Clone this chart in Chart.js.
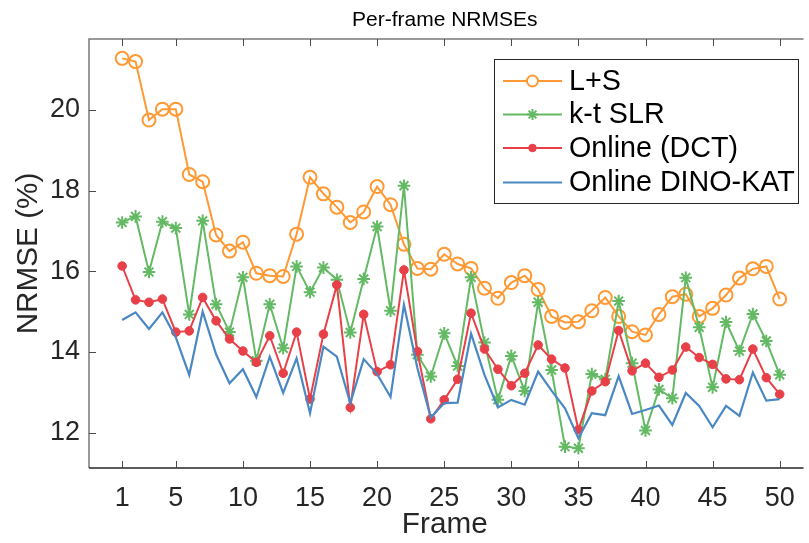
<!DOCTYPE html>
<html>
<head>
<meta charset="utf-8">
<script src="https://cdn.jsdelivr.net/npm/chart.js@4/dist/chart.umd.min.js"></script>
<style>
  html, body { margin: 0; padding: 0; background: #ffffff; }
  #wrap { width: 809px; height: 543px; }
</style>
</head>
<body>
<div id="wrap"><canvas id="nrmse" width="809" height="543"></canvas></div>
<script>
// Frame indices
const frames = [1, 2, 3, 4, 5, 6, 7, 8, 9, 10,
  11, 12, 13, 14, 15, 16, 17, 18, 19, 20,
  21, 22, 23, 24, 25, 26, 27, 28, 29, 30,
  31, 32, 33, 34, 35, 36, 37, 38, 39, 40,
  41, 42, 43, 44, 45, 46, 47, 48, 49, 50];

// Per-frame NRMSE (%) for each reconstruction method
const lsValues = [21.28, 21.20, 19.75, 20.02, 20.02, 18.40, 18.22, 16.90, 16.50, 16.72,
  15.95, 15.89, 15.87, 16.92, 18.33, 17.92, 17.59, 17.21, 17.47, 18.10,
  17.65, 16.67, 16.07, 16.05, 16.42, 16.18, 16.07, 15.58, 15.33, 15.72,
  15.89, 15.55, 14.88, 14.73, 14.75, 15.02, 15.35, 14.88, 14.50, 14.42,
  14.93, 15.37, 15.43, 14.88, 15.08, 15.41, 15.83, 16.06, 16.12, 15.31];

const ktslrValues = [17.21, 17.36, 15.98, 17.23, 17.07, 14.93, 17.25, 15.18, 14.49, 15.85,
  13.78, 15.18, 14.09, 16.12, 15.48, 16.09, 15.79, 14.48, 15.81, 17.11,
  15.02, 18.12, 13.93, 13.39, 14.46, 13.65, 15.85, 14.23, 12.81, 13.90,
  13.03, 15.23, 13.55, 11.65, 11.61, 13.45, 13.32, 15.26, 13.72, 12.05,
  13.07, 12.85, 15.84, 14.61, 13.12, 14.74, 14.02, 14.94, 14.27, 13.43];

const dctValues = [16.13, 15.29, 15.23, 15.31, 14.49, 14.52, 15.35, 14.77, 14.32, 14.02,
  13.74, 14.40, 13.47, 14.49, 12.83, 14.44, 15.66, 12.62, 14.93, 13.51,
  13.68, 16.03, 14.01, 12.34, 12.81, 13.32, 14.96, 14.07, 13.57, 13.16,
  13.47, 14.17, 13.82, 13.60, 12.07, 13.03, 13.26, 14.53, 13.53, 13.72,
  13.37, 13.55, 14.12, 13.86, 13.69, 13.33, 13.31, 14.07, 13.36, 12.95];

const dinoValues = [14.79, 14.98, 14.57, 14.98, 14.36, 13.43, 15.00, 13.94, 13.22, 13.57,
  12.88, 13.88, 12.98, 13.84, 12.48, 14.13, 13.88, 12.73, 13.82, 13.45,
  12.88, 15.17, 13.60, 12.37, 12.73, 12.74, 14.45, 13.43, 12.62, 12.81,
  12.69, 13.51, 13.04, 12.60, 11.86, 12.48, 12.43, 13.40, 12.46, 12.56,
  12.67, 12.19, 12.98, 12.66, 12.13, 12.66, 12.41, 13.49, 12.79, 12.83];

// Axis tick positions
const xTickValues = [1, 5, 10, 15, 20, 25, 30, 35, 40, 45, 50];
const yTickValues = [12, 14, 16, 18, 20];

const FONT = '"Liberation Sans", Arial, Helvetica, sans-serif';
const TEXT = '#262626';

const toPoints = vals => frames.map((f, i) => ({ x: f, y: vals[i] }));

// Axes box with inward-pointing tick marks, plus the title
const axesBox = {
  id: 'axesBox',
  beforeDatasetsDraw(chart) {
    const { ctx, chartArea: a, scales: { x, y } } = chart;
    ctx.save();
    ctx.lineWidth = 1.5;
    ctx.strokeStyle = '#7a7a7a';
    ctx.beginPath();
    ctx.moveTo(a.left, a.bottom); ctx.lineTo(a.left, a.top); ctx.lineTo(a.right + 3, a.top);
    ctx.stroke();
    ctx.strokeStyle = TEXT;
    ctx.beginPath();
    ctx.moveTo(a.left, a.bottom); ctx.lineTo(a.right + 3, a.bottom);
    ctx.stroke();
    ctx.lineWidth = 1;
    ctx.strokeStyle = '#4a4a4a';
    ctx.beginPath();
    xTickValues.forEach(v => {
      const px = Math.round(x.getPixelForValue(v)) + 0.5;
      ctx.moveTo(px, a.bottom); ctx.lineTo(px, a.bottom - 7);
      ctx.moveTo(px, a.top); ctx.lineTo(px, a.top + 7);
    });
    yTickValues.forEach(v => {
      const py = Math.round(y.getPixelForValue(v)) + 0.5;
      ctx.moveTo(a.left, py); ctx.lineTo(a.left + 7, py);
    });
    ctx.stroke();
    ctx.restore();
  },
  afterDraw(chart) {
    const { ctx, chartArea: a } = chart;
    ctx.save();
    ctx.fillStyle = '#000000';
    ctx.font = '21px ' + FONT;
    ctx.textAlign = 'center';
    ctx.textBaseline = 'middle';
    ctx.fillText('Per-frame NRMSEs', (a.left + a.right) / 2, 20);
    ctx.restore();
  }
};

// Boxed legend in the upper-right corner of the plot
const boxLegend = {
  id: 'boxLegend',
  afterDraw(chart) {
    const { ctx } = chart;
    const bx = 494, by = 59, bw = 304, bh = 144;
    ctx.save();
    ctx.fillStyle = '#ffffff';
    ctx.fillRect(bx, by, bw, bh);
    ctx.lineWidth = 1;
    ctx.strokeStyle = '#262626';
    ctx.strokeRect(bx + 0.5, by + 0.5, bw, bh);
    const rows = [81, 114.5, 148, 182.5];
    chart.data.datasets.forEach((ds, i) => {
      const yy = rows[i];
      ctx.strokeStyle = ds.borderColor;
      ctx.lineWidth = 2;
      ctx.beginPath();
      ctx.moveTo(503, yy); ctx.lineTo(562, yy);
      ctx.stroke();
      if (ds.pointStyle && ds.pointRadius > 0) {
        ctx.fillStyle = ds.pointStyle === 'circle' && ds.label === 'L+S' ? '#ffffff' : ds.pointBackgroundColor;
        ctx.strokeStyle = ds.pointBorderColor;
        ctx.lineWidth = ds.pointBorderWidth;
        Chart.helpers.drawPoint(ctx, {
          pointStyle: ds.pointStyle,
          radius: ds.legendRadius,
          borderWidth: ds.pointBorderWidth
        }, 532.5, yy);
      }
      ctx.fillStyle = '#000000';
      ctx.font = '28.7px ' + FONT;
      ctx.textAlign = 'left';
      ctx.textBaseline = 'middle';
      ctx.fillText(ds.label, 569, yy + 1);
    });
    ctx.restore();
  }
};

const ORANGE = 'rgb(255,153,51)';
const GREEN = 'rgb(100,186,100)';
const RED = 'rgb(232,64,72)';
const BLUE = 'rgb(74,136,196)';

new Chart(document.getElementById('nrmse'), {
  type: 'line',
  data: {
    datasets: [
      {
        label: 'L+S', data: toPoints(lsValues), order: 4,
        borderColor: ORANGE, borderWidth: 2,
        pointStyle: 'circle', pointRadius: 6.5, legendRadius: 5.5, pointBorderWidth: 2,
        pointBorderColor: ORANGE, pointBackgroundColor: 'rgba(255,255,255,0)'
      },
      {
        label: 'k-t SLR', data: toPoints(ktslrValues), order: 3,
        borderColor: GREEN, borderWidth: 2,
        pointStyle: 'star', pointRadius: 6.3, legendRadius: 5.5, pointBorderWidth: 2,
        pointBorderColor: GREEN, pointBackgroundColor: GREEN
      },
      {
        label: 'Online (DCT)', data: toPoints(dctValues), order: 2,
        borderColor: RED, borderWidth: 2,
        pointStyle: 'circle', pointRadius: 4.3, legendRadius: 3.8, pointBorderWidth: 1,
        pointBorderColor: RED, pointBackgroundColor: RED
      },
      {
        label: 'Online DINO-KAT', data: toPoints(dinoValues), order: 1,
        borderColor: BLUE, borderWidth: 2.2,
        pointStyle: false, pointRadius: 0, legendRadius: 0, pointBorderWidth: 0,
        pointBorderColor: BLUE, pointBackgroundColor: BLUE
      }
    ]
  },
  options: {
    responsive: false,
    animation: false,
    devicePixelRatio: 1,
    layout: { padding: { left: 0, right: 3, top: 39, bottom: 0 } },
    elements: { line: { tension: 0 } },
    plugins: {
      legend: { display: false },
      title: { display: false },
      tooltip: { enabled: false }
    },
    scales: {
      x: {
        type: 'linear',
        min: -1.47,
        max: 51.55,
        afterBuildTicks(scale) { scale.ticks = xTickValues.map(v => ({ value: v })); },
        afterFit(scale) { scale.height = 75; },
        grid: { display: false, drawTicks: false },
        border: { display: false },
        ticks: { color: TEXT, font: { size: 27, family: FONT }, padding: 14, maxRotation: 0, autoSkip: false },
        title: { display: true, text: 'Frame', color: TEXT, font: { size: 29.7, family: FONT }, padding: { top: 0, bottom: 0 } }
      },
      y: {
        type: 'linear',
        min: 11.12,
        max: 21.76,
        afterBuildTicks(scale) { scale.ticks = yTickValues.map(v => ({ value: v })); },
        afterFit(scale) { scale.width = 89; },
        grid: { display: false, drawTicks: false },
        border: { display: false },
        ticks: { color: TEXT, font: { size: 27, family: FONT }, padding: 9 },
        title: { display: true, text: 'NRMSE (%)', color: TEXT, font: { size: 29.7, family: FONT }, padding: { top: 11, bottom: 0 } }
      }
    }
  },
  plugins: [axesBox, boxLegend]
});
</script>
</body>
</html>
